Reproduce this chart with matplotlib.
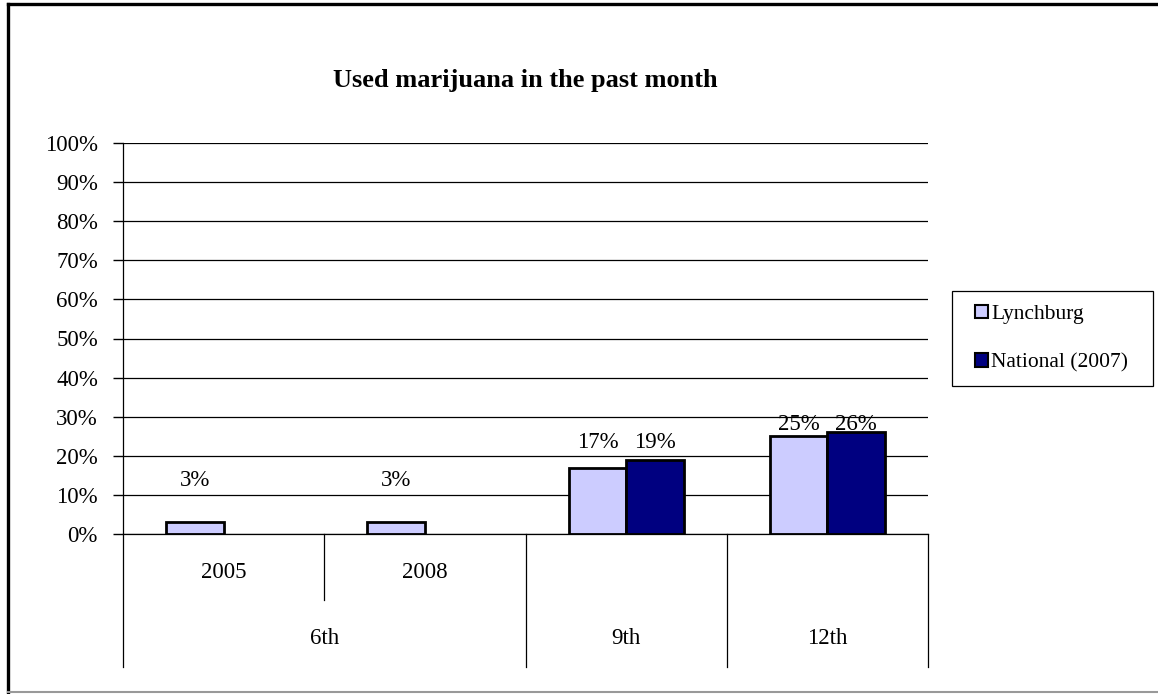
import matplotlib
matplotlib.use("Agg")
import matplotlib.pyplot as plt
from matplotlib.lines import Line2D
from matplotlib.patches import Patch, Rectangle
import numpy as np

# ---- data ----
title = "Used marijuana in the past month"
years = ["2005", "2008", "", ""]
groups = ["6th", "9th", "12th"]
group_spans = [(0, 1), (2, 2), (3, 3)]
lynchburg = [3, 3, 17, 25]
national = [np.nan, np.nan, 19, 26]
lyn_labels = ["3%", "3%", "17%", "25%"]
nat_labels = ["", "", "19%", "26%"]
series_names = ["Lynchburg", "National (2007)"]
yticks = list(range(0, 101, 10))

# ---- layout / style ----
label_y = [13.8, 13.8, 23.5, 27.9]   # label heights (data units) as placed in the reference
c_lyn = "#CCCCFF"
c_nat = "#000080"
serif = ["Liberation Serif", "DejaVu Serif"]
fs = 16.5

W, H = 1158, 694
fig = plt.figure(figsize=(W / 100, H / 100), dpi=100)
ax = fig.add_axes([123 / W, 1 - 534 / H, (928 - 123) / W, (534 - 143) / H])

x = np.arange(len(lynchburg))
bw = 1 / 3.5
ax.bar(x - bw / 2, lynchburg, bw, color=c_lyn, edgecolor="black", linewidth=2.0, zorder=3)
ax.bar(x + bw / 2, national, bw, color=c_nat, edgecolor="black", linewidth=2.0, zorder=3)

for i in range(len(x)):
    if lyn_labels[i]:
        ax.text(x[i] - bw / 2, label_y[i], lyn_labels[i], ha="center", va="center",
                family=serif, fontsize=fs)
    if nat_labels[i]:
        ax.text(x[i] + bw / 2, label_y[i], nat_labels[i], ha="center", va="center",
                family=serif, fontsize=fs)

ax.set_xlim(-0.5, len(x) - 0.5)
ax.set_ylim(0, 100)
ax.set_yticks(yticks)
ax.set_yticklabels([f"{v}%" for v in yticks], family=serif, fontsize=fs)
ax.tick_params(axis="y", length=7, width=1, direction="out", pad=11)
ax.set_xticks([])
ax.grid(axis="y", color="black", linewidth=0.9, zorder=0)
for s in ["top", "right"]:
    ax.spines[s].set_visible(False)
ax.spines["left"].set_linewidth(0.9)
ax.spines["bottom"].set_linewidth(0.9)
ax.spines["bottom"].set_zorder(4)

# multi-level category axis
tr = ax.get_xaxis_transform()
px = 1 / (534 - 143)
y_year = -(572 - 534) * px
y_group = -(639 - 534) * px
y_short = -(600 - 534) * px
y_long = -(667 - 534) * px
for i, yl in enumerate(years):
    if yl:
        ax.text(x[i], y_year, yl, transform=tr, ha="center", va="center",
                family=serif, fontsize=fs)
ax.plot([0.5, 0.5], [0, y_short], transform=tr, color="black", lw=0.9, clip_on=False)
bounds = [-0.5] + [b + 0.5 for _, b in group_spans]
for b in bounds:
    ax.plot([b, b], [0, y_long], transform=tr, color="black", lw=0.9, clip_on=False)
for g, (a, b) in zip(groups, group_spans):
    ax.text((a + b) / 2, y_group, g, transform=tr, ha="center", va="center",
            family=serif, fontsize=fs)

# title
fig.text(525 / W, 1 - 80 / H, title, ha="center", va="center", family=serif,
         fontsize=19, fontweight="bold")

# legend (frame drawn separately)
handles = [Patch(facecolor=c_lyn, edgecolor="black", linewidth=1.5),
           Patch(facecolor=c_nat, edgecolor="black", linewidth=1.5)]
leg = fig.legend(handles, series_names, loc="center left",
                 bbox_to_anchor=(975 / W, 1 - 338.5 / H),
                 prop={"family": serif, "size": 15.5}, frameon=False,
                 handlelength=0.6, handleheight=0.6,
                 handletextpad=0.15, labelspacing=1.35, borderpad=0, borderaxespad=0)
fig.add_artist(Rectangle((952 / W, 1 - 386 / H), (1153 - 952) / W, (386 - 291) / H,
                         transform=fig.transFigure, fill=False, edgecolor="black",
                         linewidth=0.9))

# outer chart border
fig.add_artist(Line2D([8 / W, 8 / W], [1 - 4 / H, 1 - 692 / H], color="black", lw=2.4))
fig.add_artist(Line2D([8 / W, 1], [1 - 4 / H, 1 - 4 / H], color="black", lw=2.4))
fig.add_artist(Line2D([8 / W, 1], [1 - 692 / H, 1 - 692 / H], color="#999999", lw=1.5))

fig.savefig("out.png", dpi=100)
